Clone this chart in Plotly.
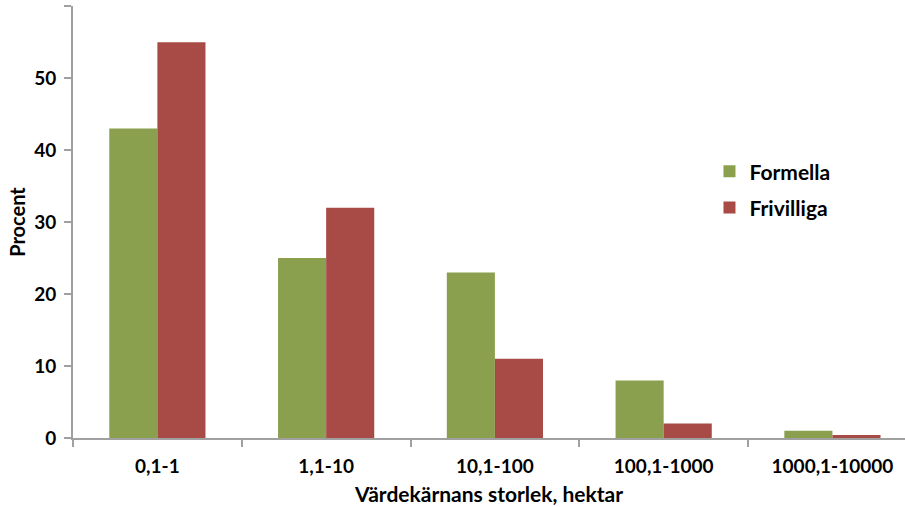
import plotly.graph_objects as go

categories = ["0,1-1", "1,1-10", "10,1-100", "100,1-1000", "1000,1-10000"]
formella = [43, 25, 23, 8, 1]
frivilliga = [55, 32, 11, 2, 0.4]
y_ticks = [0, 10, 20, 30, 40, 50, 60]

FONT = "Lato"
fig = go.Figure()
fig.add_trace(go.Bar(x=categories, y=formella, name="Formella",
                     marker=dict(color="#8BA04F", line=dict(width=0)), legendgroup="a"))
fig.add_trace(go.Bar(x=categories, y=frivilliga, name="Frivilliga",
                     marker=dict(color="#A84B46", line=dict(width=0)), legendgroup="b"))

fig.update_layout(
    width=905, height=507,
    margin=dict(l=73, r=0, t=6, b=69, autoexpand=False),
    paper_bgcolor="white", plot_bgcolor="white",
    bargap=0.43, bargroupgap=0,
    font=dict(family=FONT, size=19, color="black", weight="bold"),
    showlegend=True,
    legend=dict(x=0.765, y=0.664, xanchor="left", yanchor="top",
                font=dict(family=FONT, size=21, color="black", weight="bold"),
                tracegroupgap=6, bgcolor="rgba(0,0,0,0)", itemwidth=30),
    xaxis=dict(type="category", range=[-0.5, 4.43], showline=True, linecolor="#A0A0A0",
               linewidth=2, ticks="outside", tickson="boundaries", ticklen=7,
               tickcolor="#A0A0A0", tickwidth=2, showgrid=False, automargin=False,
               ticklabelstandoff=10,
               tickfont=dict(family=FONT, size=19, weight="bold"),
               title=dict(text="Värdekärnans storlek, hektar", standoff=12,
                          font=dict(family=FONT, size=21, weight="bold"))),
    yaxis=dict(range=[0, 60.02], tickvals=y_ticks, showline=True, linecolor="#A0A0A0",
               linewidth=2, ticks="outside", ticklen=7, tickcolor="#A0A0A0", tickwidth=2,
               showgrid=False, zeroline=False, ticklabelstandoff=4, automargin=False,
               tickfont=dict(family=FONT, size=19, weight="bold"),
               title=dict(text="Procent", standoff=3,
                          font=dict(family=FONT, size=20, weight="bold"))),
)
fig.write_html("out.html", config={"displayModeBar": False},
               post_script="document.body.style.margin='0px';")
